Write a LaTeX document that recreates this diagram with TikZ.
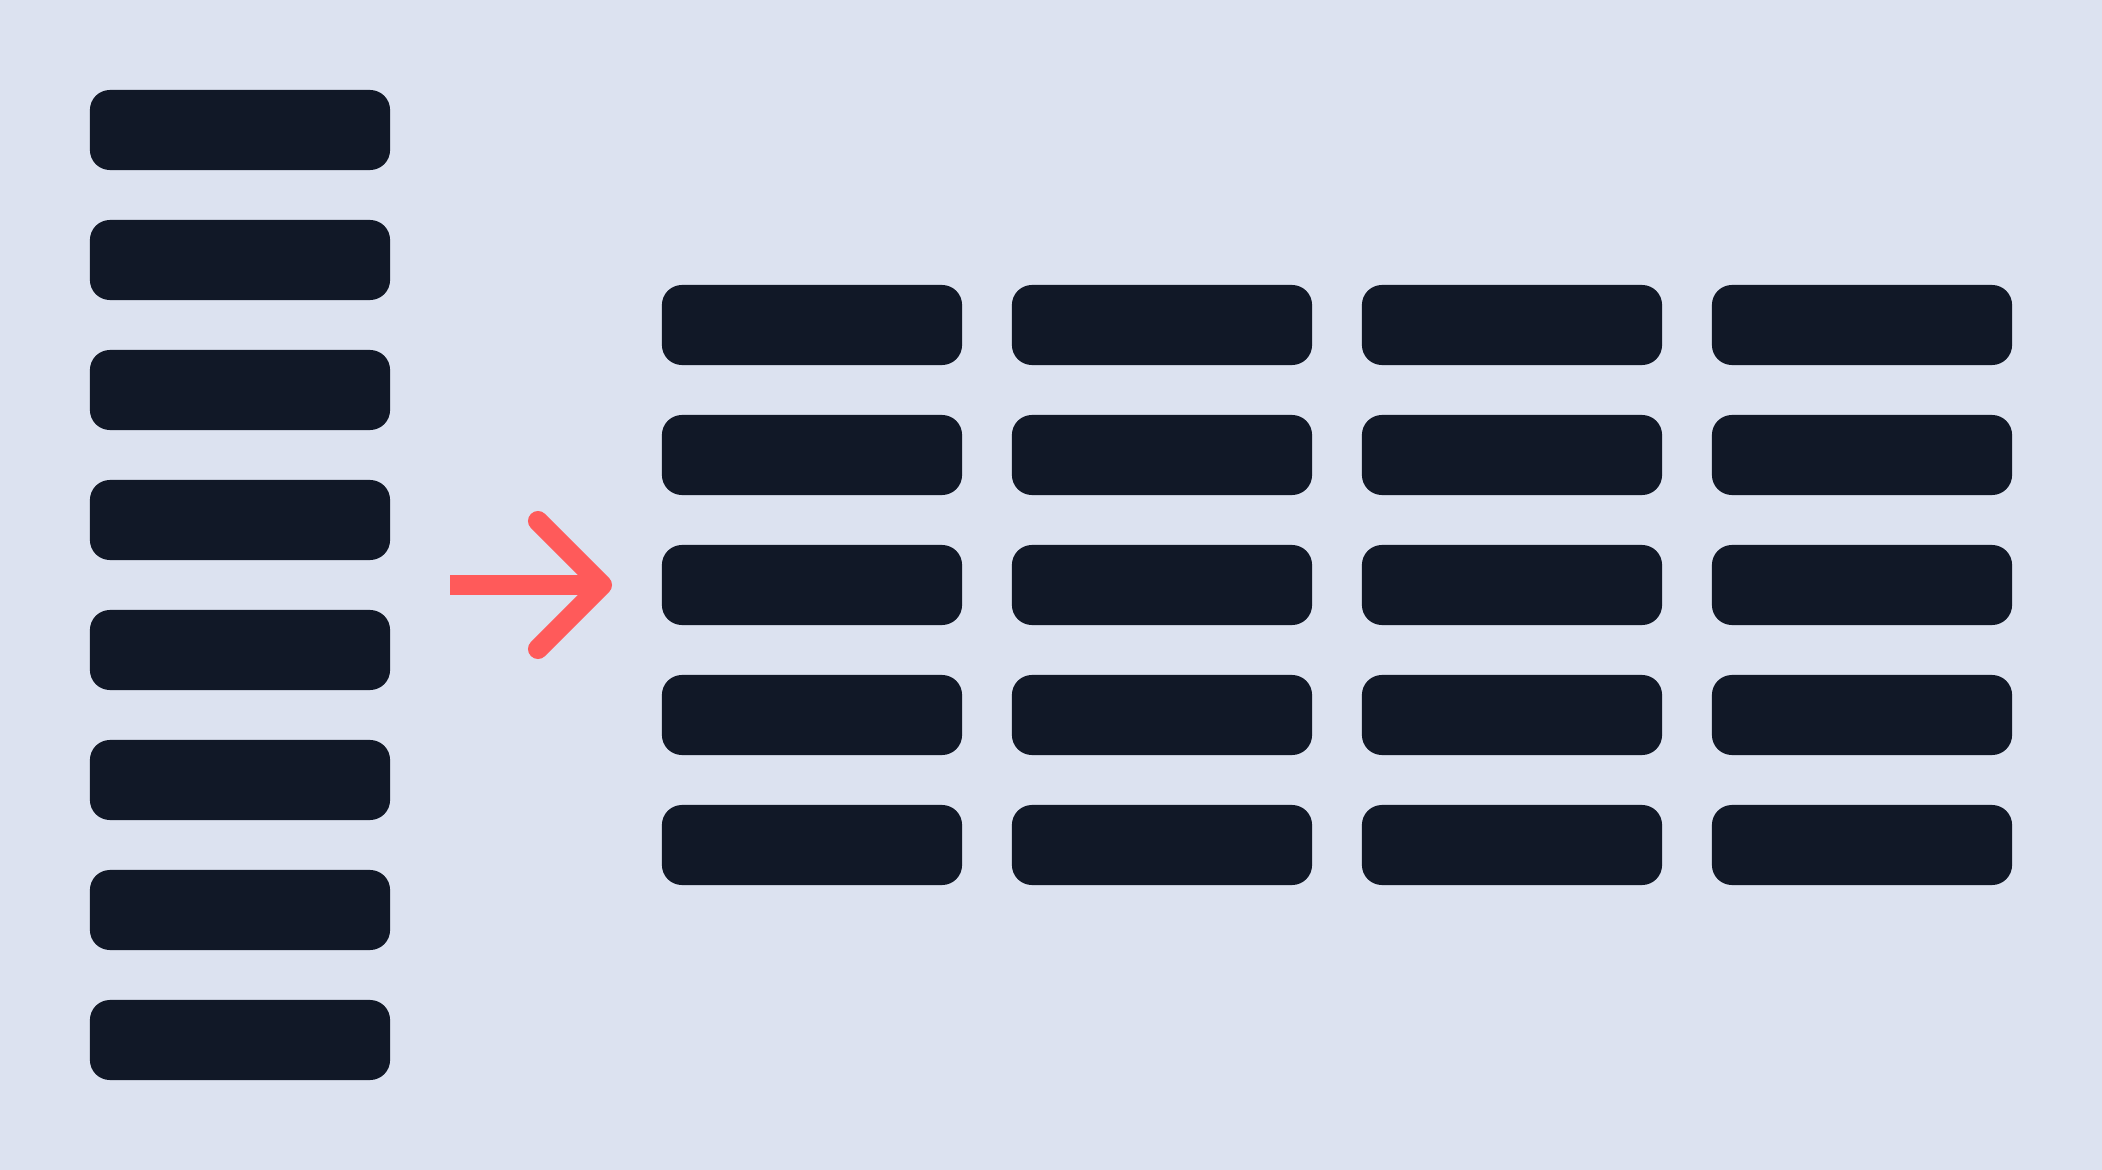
\documentclass[tikz,border=0pt]{standalone}
\definecolor{bgblue}{HTML}{DCE2F0}
\definecolor{bardark}{HTML}{111827}
\definecolor{arrowred}{HTML}{FF5A5A}
\tikzset{bar/.style = {fill = bardark, rounded corners = 0.2cm, minimum width = 3cm, minimum height = 0.8cm, inner sep = 0pt},
  redline/.style = {arrowred, line width = 0.2cm}}

\begin{document}
\begin{tikzpicture}[x = 0.01cm, y = -0.01cm]
\fill[bgblue] (0,0) rectangle (2102,1170);
% single column
\foreach \i in {0,...,7}
  \node[bar] (col\i) at (240, 130+130*\i) {};
% grid of four columns
\foreach \i in {0,...,4}
  \foreach \j in {0,...,3}
    \node[bar] (grid\i\j) at (812+350*\j, 325+130*\i) {};
% arrow
\coordinate (tail) at (450,585);
\coordinate (tip) at (602,585);
\coordinate (wingup) at (538,521);
\coordinate (wingdown) at (538,649);
\draw[redline] (tail) -- (tip);
\draw[redline, line cap = round, line join = round] (wingup) -- (tip) -- (wingdown);
\end{tikzpicture}
\end{document}
